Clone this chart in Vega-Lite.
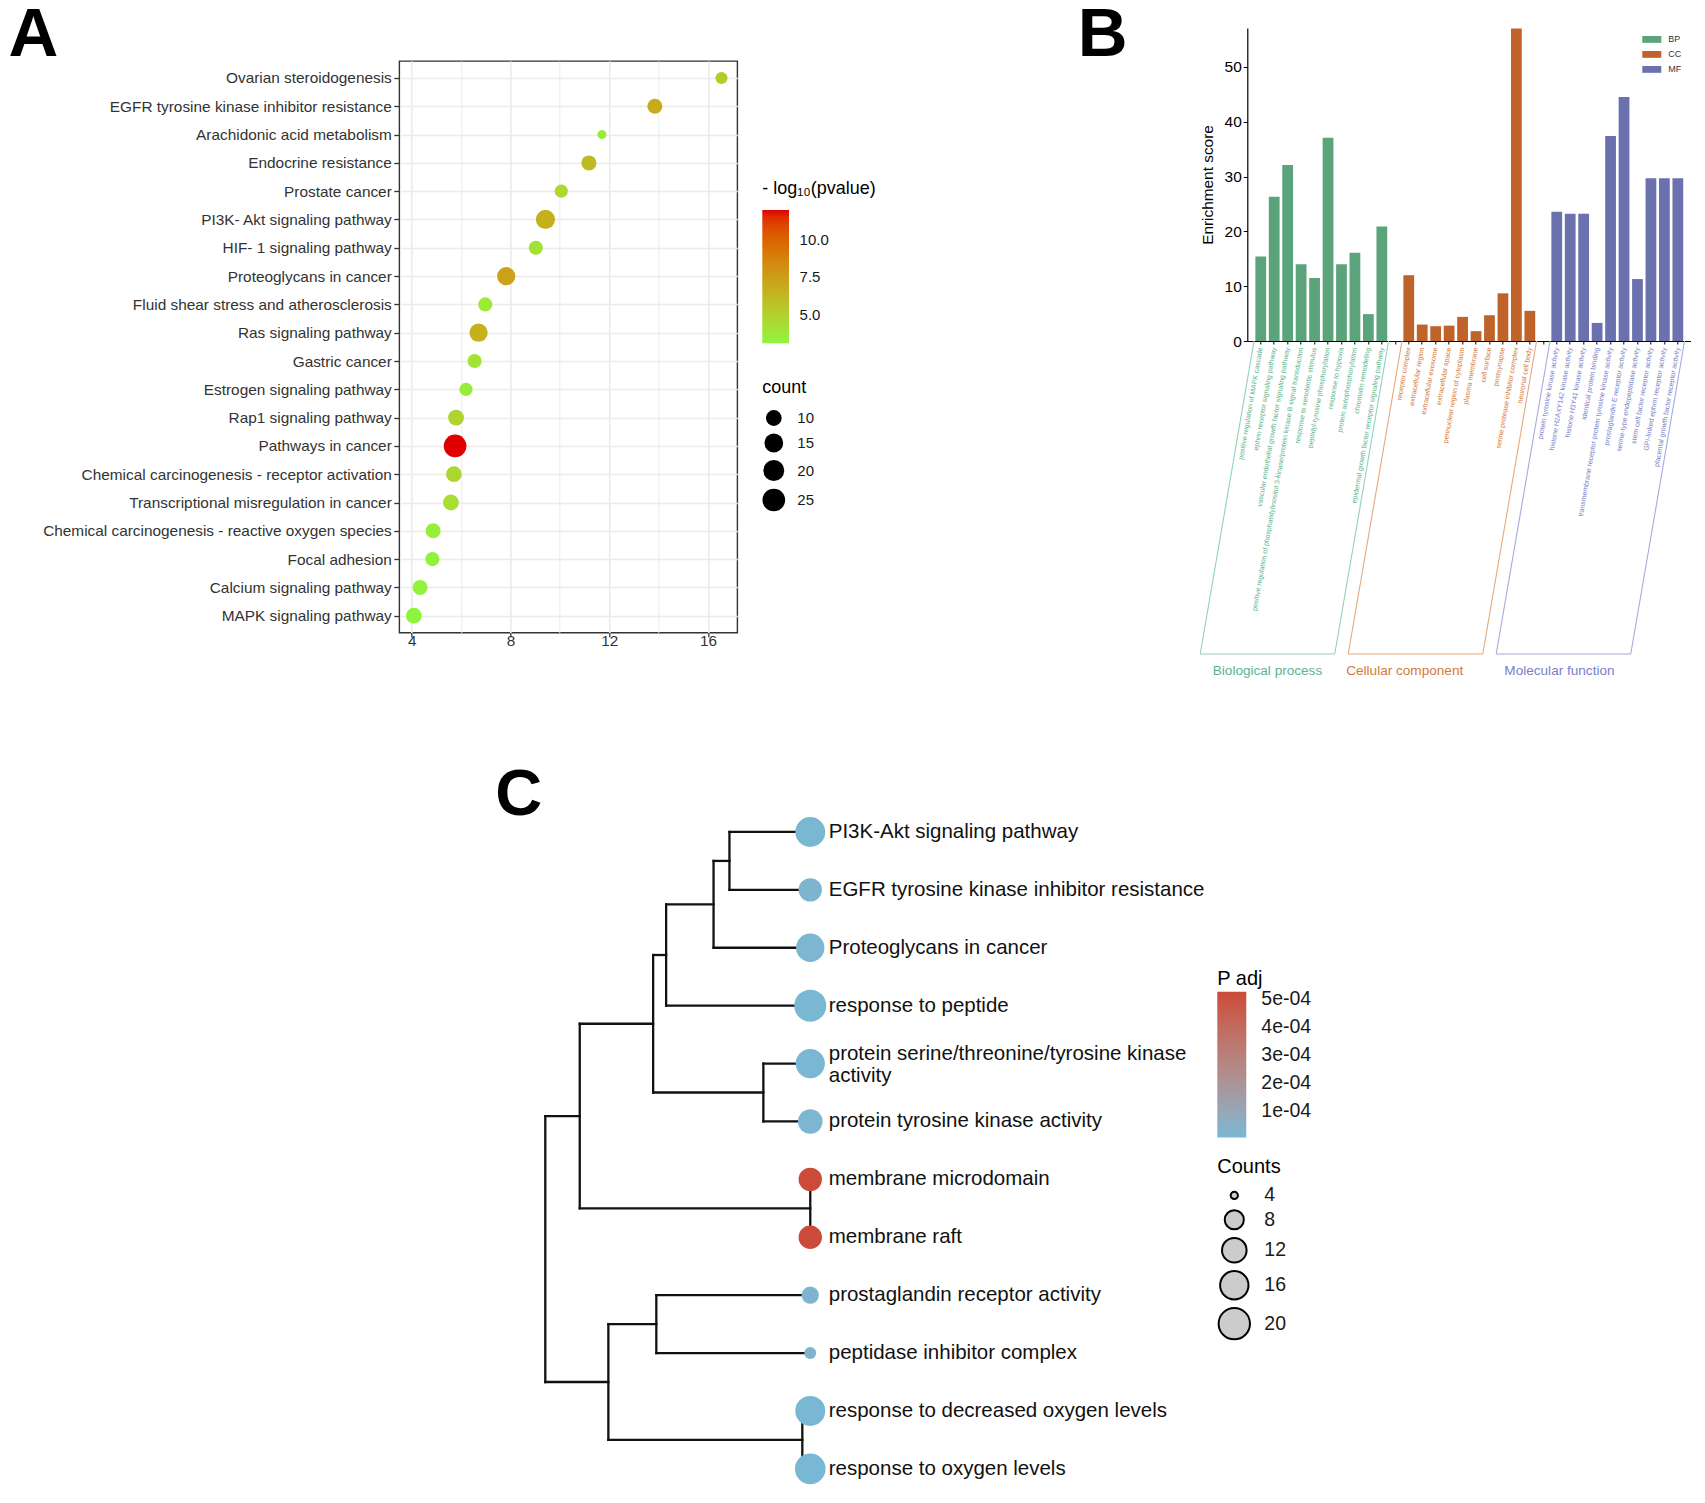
{
 "$schema": "https://vega.github.io/schema/vega-lite/v6.json",
 "padding": {"left": 7.3, "top": 0, "right": 0, "bottom": 0},
 "config": {
  "font": "Liberation Sans",
  "view": {"stroke": null},
  "legend": {"padding": 0, "titleFontWeight": "normal", "titleColor": "#000000", "labelColor": "#1a1a1a", "gradientStrokeWidth": 0},
  "title": {"fontWeight": "bold", "color": "#000000"}
 },
 "datasets": {
  "cLeaves": [
   {"pos": 1, "term": "PI3K-Akt signaling pathway", "count": 18, "padj": 0.000012},
   {"pos": 2, "term": "EGFR tyrosine kinase inhibitor resistance", "count": 11, "padj": 0.00002},
   {"pos": 3, "term": "Proteoglycans in cancer", "count": 16, "padj": 0.000015},
   {"pos": 4, "term": "response to peptide", "count": 21, "padj": 0.000008},
   {"pos": 5, "term": "protein serine/threonine/tyrosine kinase\nactivity", "count": 17, "padj": 0.00001},
   {"pos": 6, "term": "protein tyrosine kinase activity", "count": 12, "padj": 0.000018},
   {"pos": 7, "term": "membrane microdomain", "count": 11, "padj": 0.000526},
   {"pos": 8, "term": "membrane raft", "count": 11, "padj": 0.000526},
   {"pos": 9, "term": "prostaglandin receptor activity", "count": 7, "padj": 0.000025},
   {"pos": 10, "term": "peptidase inhibitor complex", "count": 5, "padj": 0.00003},
   {"pos": 11, "term": "response to decreased oxygen levels", "count": 18, "padj": 0.000006},
   {"pos": 12, "term": "response to oxygen levels", "count": 19, "padj": 0.0000057}
  ]
 },
 "bounds": "flush",
 "spacing": 614.7,
 "resolve": {"scale": {"color": "independent", "size": "independent", "x": "independent", "y": "independent"}, "legend": {"color": "independent", "size": "independent"}},
 "vconcat": [
  {
   "bounds": "flush",
   "spacing": 848,
   "resolve": {"scale": {"color": "independent", "size": "independent", "x": "independent", "y": "independent"}, "legend": {"color": "independent", "size": "independent"}},
   "hconcat": [
    {
     "bounds": "flush",
     "spacing": 0,
     "resolve": {"scale": {"color": "independent", "size": "independent", "x": "independent", "y": "independent"}, "legend": {"color": "independent", "size": "independent"}},
     "vconcat": [
      {"width": 10, "height": 33, "data": {"values": []}, "mark": "point", "encoding": {}},
      {
       "width": 338,
       "height": 571.7,
       "view": {"stroke": "#333333", "strokeWidth": 1.4},
       "title": {"text": "A", "anchor": "start", "frame": "group", "fontSize": 69, "baseline": "alphabetic", "offset": 0, "dx": -390.7, "dy": 64.2},
       "data": {"values": [
        {"pathway": "Ovarian steroidogenesis", "enrichment": 16.55, "count": 6, "logp": 5.3},
        {"pathway": "EGFR tyrosine kinase inhibitor resistance", "enrichment": 13.85, "count": 9, "logp": 6.8},
        {"pathway": "Arachidonic acid metabolism", "enrichment": 11.71, "count": 4, "logp": 3.6},
        {"pathway": "Endocrine resistance", "enrichment": 11.18, "count": 9, "logp": 6.1},
        {"pathway": "Prostate cancer", "enrichment": 10.06, "count": 7, "logp": 4.6},
        {"pathway": "PI3K- Akt signaling pathway", "enrichment": 9.42, "count": 16, "logp": 6.6},
        {"pathway": "HIF- 1 signaling pathway", "enrichment": 9.03, "count": 8, "logp": 4.1},
        {"pathway": "Proteoglycans in cancer", "enrichment": 7.83, "count": 14, "logp": 7.3},
        {"pathway": "Fluid shear stress and atherosclerosis", "enrichment": 6.98, "count": 8, "logp": 3.7},
        {"pathway": "Ras signaling pathway", "enrichment": 6.71, "count": 14, "logp": 6.6},
        {"pathway": "Gastric cancer", "enrichment": 6.55, "count": 8, "logp": 4.0},
        {"pathway": "Estrogen signaling pathway", "enrichment": 6.2, "count": 7, "logp": 3.5},
        {"pathway": "Rap1 signaling pathway", "enrichment": 5.8, "count": 10, "logp": 4.8},
        {"pathway": "Pathways in cancer", "enrichment": 5.76, "count": 25, "logp": 12.0},
        {"pathway": "Chemical carcinogenesis -  receptor activation", "enrichment": 5.71, "count": 10, "logp": 4.7},
        {"pathway": "Transcriptional misregulation in cancer", "enrichment": 5.59, "count": 10, "logp": 4.3},
        {"pathway": "Chemical carcinogenesis -  reactive oxygen species", "enrichment": 4.87, "count": 9, "logp": 3.4},
        {"pathway": "Focal adhesion", "enrichment": 4.84, "count": 8, "logp": 3.3},
        {"pathway": "Calcium signaling pathway", "enrichment": 4.34, "count": 9, "logp": 3.2},
        {"pathway": "MAPK signaling pathway", "enrichment": 4.09, "count": 10, "logp": 3.08}
       ]},
       "mark": {"type": "circle", "opacity": 1},
       "encoding": {
        "x": {"field": "enrichment", "type": "quantitative",
         "scale": {"domain": [3.5, 17.19], "nice": false, "zero": false},
         "axis": {"title": null, "values": [4, 6, 8, 10, 12, 14, 16],
          "labelExpr": "datum.value % 4 == 0 ? datum.label : ''",
          "labelFontSize": 15.3, "labelColor": "#333333",
          "tickColor": {"condition": {"test": "datum.value % 4 != 0", "value": "transparent"}, "value": "#333333"},
          "tickSize": 4, "tickWidth": 1.3, "domain": false, "grid": true, "gridColor": "#EBEBEB",
          "gridWidth": {"condition": {"test": "datum.value % 4 != 0", "value": 1}, "value": 1.7},
          "labelPadding": -3, "labelFlush": false}},
        "y": {"field": "pathway", "type": "nominal", "sort": null,
         "scale": {"type": "point", "padding": 0.6},
         "axis": {"title": null, "labelFontSize": 15.4, "labelColor": "#333333", "tickColor": "#333333", "tickSize": 5.5, "tickWidth": 1.3, "domain": false, "grid": true, "gridColor": "#EBEBEB", "gridWidth": 1.7, "labelPadding": 2.5, "labelLimit": 500}},
        "color": {"field": "logp", "type": "quantitative",
         "scale": {"domain": [3.08, 12.0], "range": ["#8EF53E", "#E00000"], "interpolate": "lab"},
         "legend": {"title": "- log₁₀(pvalue)", "orient": "none", "legendX": 363, "legendY": 119, "direction": "vertical", "gradientLength": 133.3, "gradientThickness": 26.7, "titleFontSize": 18, "labelFontSize": 15, "values": [5, 7.5, 10], "format": ".1f", "labelOffset": 10.6, "titlePadding": 12}},
        "size": {"field": "count", "type": "quantitative",
         "scale": {"type": "sqrt", "domain": [4, 26], "range": [81, 529], "zero": false},
         "legend": {"title": "count", "orient": "none", "legendX": 363, "legendY": 318, "values": [10, 15, 20, 25], "titleFontSize": 18, "labelFontSize": 15, "symbolFillColor": "#000000", "symbolStrokeWidth": 0, "symbolOpacity": 1, "symbolType": "circle", "rowPadding": 7.5, "labelOffset": 12, "titlePadding": 13}}
       }
      }
     ]
    },
    {
     "width": 444,
     "height": 313,
     "title": {"text": "B", "anchor": "start", "frame": "group", "fontSize": 69, "baseline": "alphabetic", "offset": 0, "dx": -169.5, "dy": 97},
     "resolve": {"scale": {"x": "independent", "y": "independent", "color": "independent"}},
     "layer": [
      {
       "data": {"values": [
        {"term": "positive regulation of MAPK cascade", "cat": "BP", "score": 15.4},
        {"term": "ephrin receptor signaling pathway", "cat": "BP", "score": 26.3},
        {"term": "vascular endothelial growth factor signaling pathway", "cat": "BP", "score": 32.1},
        {"term": "positive regulation of phosphatidylinositol 3-kinase/protein kinase B signal transduction", "cat": "BP", "score": 14.0},
        {"term": "response to xenobiotic stimulus", "cat": "BP", "score": 11.5},
        {"term": "peptidyl-tyrosine phosphorylation", "cat": "BP", "score": 37.1},
        {"term": "response to hypoxia", "cat": "BP", "score": 14.0},
        {"term": "protein autophosphorylation", "cat": "BP", "score": 16.1},
        {"term": "chromatin remodeling", "cat": "BP", "score": 4.9},
        {"term": "epidermal growth factor receptor signaling pathway", "cat": "BP", "score": 20.9},
        {"term": "receptor complex", "cat": "CC", "score": 12.0},
        {"term": "extracellular region", "cat": "CC", "score": 3.0},
        {"term": "extracellular exosome", "cat": "CC", "score": 2.7},
        {"term": "extracellular space", "cat": "CC", "score": 2.8},
        {"term": "perinuclear region of cytoplasm", "cat": "CC", "score": 4.4},
        {"term": "plasma membrane", "cat": "CC", "score": 1.8},
        {"term": "cell surface", "cat": "CC", "score": 4.7},
        {"term": "postsynapse", "cat": "CC", "score": 8.7},
        {"term": "serine protease inhibitor complex", "cat": "CC", "score": 57.0},
        {"term": "neuronal cell body", "cat": "CC", "score": 5.5},
        {"term": "protein tyrosine kinase activity", "cat": "MF", "score": 23.6},
        {"term": "histone H2AXY142 kinase activity", "cat": "MF", "score": 23.2},
        {"term": "histone H3Y41 kinase activity", "cat": "MF", "score": 23.2},
        {"term": "identical protein binding", "cat": "MF", "score": 3.3},
        {"term": "transmembrane receptor protein tyrosine kinase activity", "cat": "MF", "score": 37.4},
        {"term": "prostaglandin E receptor activity", "cat": "MF", "score": 44.5},
        {"term": "serine-type endopeptidase activity", "cat": "MF", "score": 11.3},
        {"term": "stem cell factor receptor activity", "cat": "MF", "score": 29.7},
        {"term": "GPI-linked ephrin receptor activity", "cat": "MF", "score": 29.7},
        {"term": "placental growth factor receptor activity", "cat": "MF", "score": 29.7}
       ]},
       "mark": {"type": "bar"},
       "encoding": {
        "x": {"field": "term", "type": "nominal",
         "scale": {"domain": [
          "positive regulation of MAPK cascade", "ephrin receptor signaling pathway", "vascular endothelial growth factor signaling pathway", "positive regulation of phosphatidylinositol 3-kinase/protein kinase B signal transduction", "response to xenobiotic stimulus", "peptidyl-tyrosine phosphorylation", "response to hypoxia", "protein autophosphorylation", "chromatin remodeling", "epidermal growth factor receptor signaling pathway",
          " ",
          "receptor complex", "extracellular region", "extracellular exosome", "extracellular space", "perinuclear region of cytoplasm", "plasma membrane", "cell surface", "postsynapse", "serine protease inhibitor complex", "neuronal cell body",
          "  ",
          "protein tyrosine kinase activity", "histone H2AXY142 kinase activity", "histone H3Y41 kinase activity", "identical protein binding", "transmembrane receptor protein tyrosine kinase activity", "prostaglandin E receptor activity", "serine-type endopeptidase activity", "stem cell factor receptor activity", "GPI-linked ephrin receptor activity", "placental growth factor receptor activity"
         ], "paddingInner": 0.2, "paddingOuter": 0.6},
         "axis": {"title": null, "labelAngle": -80, "labelAlign": "right", "labelBaseline": "middle", "labelFontSize": 7, "labelLimit": 500, "labelPadding": 3, "labelOverlap": false, "tickSize": 3, "tickColor": "#000000", "domainColor": "#000000", "domainWidth": 1.2,
          "labelColor": {"condition": [
           {"test": "indexof(['receptor complex','extracellular region','extracellular exosome','extracellular space','perinuclear region of cytoplasm','plasma membrane','cell surface','postsynapse','serine protease inhibitor complex','neuronal cell body'], datum.value) >= 0", "value": "#D57A3A"},
           {"test": "indexof(['protein tyrosine kinase activity','histone H2AXY142 kinase activity','histone H3Y41 kinase activity','identical protein binding','transmembrane receptor protein tyrosine kinase activity','prostaglandin E receptor activity','serine-type endopeptidase activity','stem cell factor receptor activity','GPI-linked ephrin receptor activity','placental growth factor receptor activity'], datum.value) >= 0", "value": "#7A80C8"}
          ], "value": "#5DB38E"}}},
        "y": {"field": "score", "type": "quantitative",
         "scale": {"domain": [0, 57.1], "nice": false},
         "axis": {"title": "Enrichment score", "titleFontSize": 15.4, "titleFontWeight": "normal", "titleColor": "#000000", "values": [0, 10, 20, 30, 40, 50], "labelFontSize": 15.5, "labelColor": "#000000", "tickSize": 4, "tickColor": "#000000", "domainColor": "#000000", "domainWidth": 1.2, "grid": false, "labelPadding": 2, "titlePadding": 9}},
        "color": {"field": "cat", "type": "nominal",
         "scale": {"domain": ["BP", "CC", "MF"], "range": ["#5BA37B", "#C0632A", "#6B70AE"]},
         "legend": {"title": null, "orient": "none", "legendX": 395, "legendY": 1.9, "symbolType": "M-1,-0.36L1,-0.36L1,0.36L-1,0.36Z", "symbolSize": 361, "symbolStrokeWidth": 0, "labelFontSize": 9, "labelColor": "#333333", "labelOffset": 7, "rowPadding": -2.5}}
       }
      },
      {
       "data": {"values": [
        {"grp": "BP", "x": 0, "x2": -4, "y": 0, "y2": -1},
        {"grp": "BP", "x": 10, "x2": 6, "y": 0, "y2": -1},
        {"grp": "BP", "x": -4, "x2": 6, "y": -1, "y2": -1},
        {"grp": "CC", "x": 11, "x2": 7, "y": 0, "y2": -1},
        {"grp": "CC", "x": 21, "x2": 17, "y": 0, "y2": -1},
        {"grp": "CC", "x": 7, "x2": 17, "y": -1, "y2": -1},
        {"grp": "MF", "x": 22, "x2": 18, "y": 0, "y2": -1},
        {"grp": "MF", "x": 32, "x2": 28, "y": 0, "y2": -1},
        {"grp": "MF", "x": 18, "x2": 28, "y": -1, "y2": -1}
       ]},
       "mark": {"type": "rule", "strokeWidth": 1.1},
       "encoding": {
        "x": {"field": "x", "type": "quantitative", "scale": {"domain": [-0.5, 32.5], "nice": false, "zero": false}, "axis": null},
        "x2": {"field": "x2"},
        "y": {"field": "y", "type": "quantitative", "scale": {"domain": [0, 1], "nice": false, "zero": false}, "axis": null},
        "y2": {"field": "y2"},
        "color": {"field": "grp", "type": "nominal", "scale": {"domain": ["BP", "CC", "MF"], "range": ["#93D1B7", "#E5A87A", "#A6AADC"]}, "legend": null}
       }
      },
      {
       "data": {"values": [
        {"grp": "BP", "label": "Biological process", "x": 1},
        {"grp": "CC", "label": "Cellular component", "x": 11.2},
        {"grp": "MF", "label": "Molecular function", "x": 22.7}
       ]},
       "mark": {"type": "text", "fontSize": 13.6, "baseline": "middle", "align": "center", "dy": 17},
       "encoding": {
        "x": {"field": "x", "type": "quantitative", "scale": {"domain": [-0.5, 32.5], "nice": false, "zero": false}, "axis": null},
        "y": {"datum": -1, "type": "quantitative", "scale": {"domain": [0, 1], "nice": false, "zero": false}, "axis": null},
        "text": {"field": "label"},
        "color": {"field": "grp", "type": "nominal", "scale": {"domain": ["BP", "CC", "MF"], "range": ["#5DB38E", "#D57A3A", "#7A80C8"]}, "legend": null}
       }
      }
     ]
    }
   ]
  },
  {
   "width": 1000,
   "height": 861.3,
   "title": {"text": "C", "anchor": "start", "frame": "group", "fontSize": 65, "baseline": "alphabetic", "offset": 0, "dx": 96, "dy": 237},
   "layer": [
    {
     "data": {"values": [
      {"x": 0.695, "x2": 1, "y": 1, "y2": 1},
      {"x": 0.695, "x2": 1, "y": 2, "y2": 2},
      {"x": 0.635, "x2": 1, "y": 3, "y2": 3},
      {"x": 0.456, "x2": 1, "y": 4, "y2": 4},
      {"x": 0.823, "x2": 1, "y": 5, "y2": 5},
      {"x": 0.823, "x2": 1, "y": 6, "y2": 6},
      {"x": 0.419, "x2": 1, "y": 9, "y2": 9},
      {"x": 0.419, "x2": 1, "y": 10, "y2": 10},
      {"x": 0.97, "x2": 1, "y": 11, "y2": 11},
      {"x": 0.97, "x2": 1, "y": 12, "y2": 12},
      {"x": 0.635, "x2": 0.695, "y": 1.5, "y2": 1.5},
      {"x": 0.456, "x2": 0.635, "y": 2.25, "y2": 2.25},
      {"x": 0.407, "x2": 0.456, "y": 3.125, "y2": 3.125},
      {"x": 0.407, "x2": 0.823, "y": 5.5, "y2": 5.5},
      {"x": 0.13, "x2": 0.407, "y": 4.3125, "y2": 4.3125},
      {"x": 0.13, "x2": 1, "y": 7.5, "y2": 7.5},
      {"x": 0, "x2": 0.13, "y": 5.90625, "y2": 5.90625},
      {"x": 0.238, "x2": 0.419, "y": 9.5, "y2": 9.5},
      {"x": 0.238, "x2": 0.97, "y": 11.5, "y2": 11.5},
      {"x": 0, "x2": 0.238, "y": 10.5, "y2": 10.5},
      {"x": 0.695, "x2": 0.695, "y": 1, "y2": 2},
      {"x": 0.635, "x2": 0.635, "y": 1.5, "y2": 3},
      {"x": 0.456, "x2": 0.456, "y": 2.25, "y2": 4},
      {"x": 0.823, "x2": 0.823, "y": 5, "y2": 6},
      {"x": 0.407, "x2": 0.407, "y": 3.125, "y2": 5.5},
      {"x": 1, "x2": 1, "y": 7, "y2": 8},
      {"x": 0.13, "x2": 0.13, "y": 4.3125, "y2": 7.5},
      {"x": 0.419, "x2": 0.419, "y": 9, "y2": 10},
      {"x": 0.97, "x2": 0.97, "y": 11, "y2": 12},
      {"x": 0.238, "x2": 0.238, "y": 9.5, "y2": 11.5},
      {"x": 0, "x2": 0, "y": 5.90625, "y2": 10.5}
     ]},
     "mark": {"type": "rule", "color": "#111111", "strokeWidth": 2.3, "strokeCap": "square"},
     "encoding": {
      "x": {"field": "x", "type": "quantitative", "scale": {"domain": [-0.551, 3.223], "nice": false, "zero": false}, "axis": null},
      "x2": {"field": "x2"},
      "y": {"field": "y", "type": "quantitative", "scale": {"domain": [-2.269, 12.607], "nice": false, "zero": false, "reverse": true}, "axis": null},
      "y2": {"field": "y2"}
     }
    },
    {
     "data": {"name": "cLeaves"},
     "mark": {"type": "circle", "opacity": 1},
     "encoding": {
      "x": {"datum": 1, "type": "quantitative"},
      "y": {"field": "pos", "type": "quantitative"},
      "size": {"field": "count", "type": "quantitative",
       "scale": {"type": "sqrt", "domain": [4, 21], "range": [53, 1024], "zero": false},
       "legend": {"title": "Counts", "orient": "none", "legendX": 818, "legendY": 514, "values": [4, 8, 12, 16, 20], "symbolFillColor": "#CCCCCC", "symbolStrokeColor": "#000000", "symbolStrokeWidth": 2, "symbolType": "circle", "titleFontSize": 20, "labelFontSize": 19.5, "rowPadding": 0, "labelOffset": 13, "titlePadding": 9}},
      "color": {"field": "padj", "type": "quantitative",
       "scale": {"domain": [0.0000057, 0.000526], "range": ["#78B8D4", "#CB4A3A"], "interpolate": "lab"},
       "legend": {"title": "P adj", "orient": "none", "legendX": 818, "legendY": 326, "direction": "vertical", "gradientLength": 145.7, "gradientThickness": 29, "values": [0.0001, 0.0002, 0.0003, 0.0004, 0.0005], "labelExpr": "replace(format(datum.value, '.0e'), 'e-', 'e-0')", "titleFontSize": 20, "labelFontSize": 19.5, "labelOffset": 15, "titlePadding": 3}}
     }
    },
    {
     "data": {"name": "cLeaves"},
     "transform": [{"filter": "indexof(datum.term, '\\n') < 0"}],
     "mark": {"type": "text", "align": "left", "baseline": "middle", "dx": 18.5, "fontSize": 20.5, "color": "#111111"},
     "encoding": {
      "x": {"datum": 1, "type": "quantitative"},
      "y": {"field": "pos", "type": "quantitative"},
      "text": {"field": "term"}
     }
    },
    {
     "data": {"name": "cLeaves"},
     "transform": [{"filter": "indexof(datum.term, '\\n') >= 0"}],
     "mark": {"type": "text", "align": "left", "baseline": "middle", "dx": 18.5, "dy": -10, "fontSize": 20.5, "lineBreak": "\n", "lineHeight": 22.8, "color": "#111111"},
     "encoding": {
      "x": {"datum": 1, "type": "quantitative"},
      "y": {"field": "pos", "type": "quantitative"},
      "text": {"field": "term"}
     }
    }
   ]
  }
 ]
}
